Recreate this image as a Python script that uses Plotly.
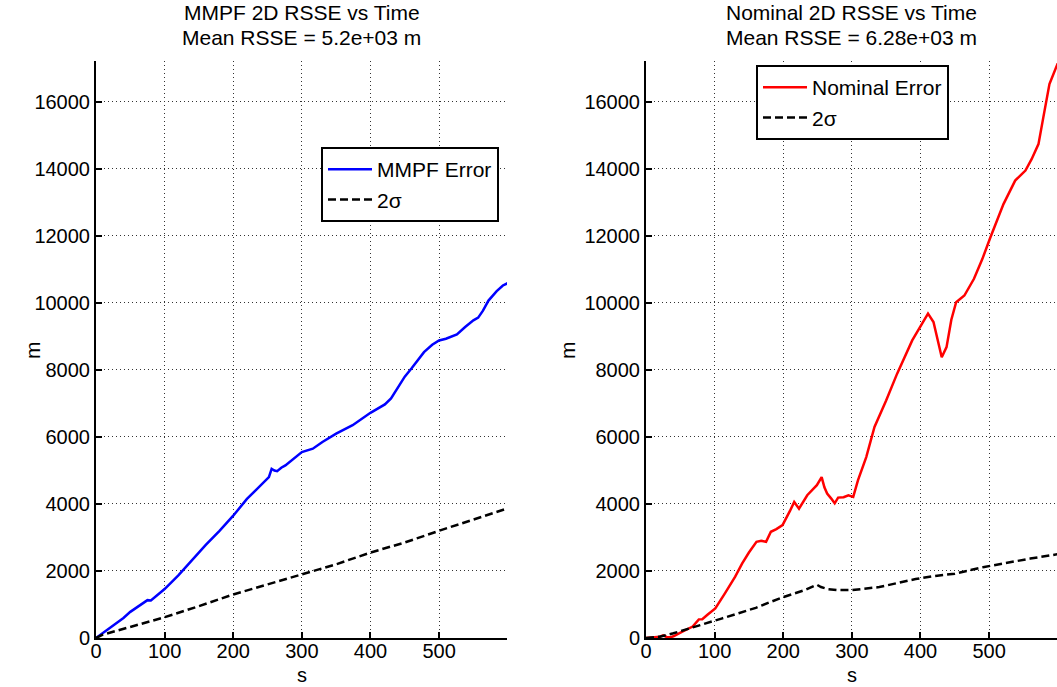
import plotly.graph_objects as go

# ---------------- data ----------------
mmpf_t = [0, 10, 20, 30, 40, 50, 60, 70, 75, 80, 90, 100, 120, 140, 160, 180, 200, 220, 240,
          252, 256, 260, 264, 270, 276, 290, 300, 316, 330, 350, 374, 400, 421, 430, 436, 450,
          460, 469, 478, 490, 500, 510, 526, 538, 550, 557, 564, 572, 584, 593, 600]
mmpf_err = [0, 150, 300, 440, 600, 780, 920, 1080, 1130, 1120, 1280, 1460, 1870, 2330, 2780, 3200,
            3650, 4150, 4550, 4800, 5050, 5000, 4980, 5080, 5150, 5400, 5550, 5650, 5850, 6100, 6350,
            6720, 6970, 7150, 7340, 7800, 8050, 8280, 8530, 8750, 8880, 8930, 9060, 9280, 9480, 9560,
            9770, 10070, 10350, 10520, 10590]

mmpf_sig_t = [0, 5, 10, 50, 100, 150, 200, 250, 300, 350, 400, 450, 500, 550, 600]
mmpf_sig = [0, 50, 100, 330, 620, 950, 1300, 1600, 1900, 2200, 2550, 2850, 3200, 3530, 3870]

nom_t = [0, 10, 20, 25, 30, 35, 40, 53, 60, 68, 77, 82, 90, 101, 115, 130, 140, 150, 161, 168, 175,
         182, 190, 199, 210, 216, 223, 230, 235, 249, 256, 260, 264, 270, 275, 280, 288, 295, 302,
         309, 321, 333, 350, 366, 388, 400, 411, 419, 425, 431, 438, 445, 452, 464, 478, 490, 502,
         521, 538, 553, 562, 572, 579, 588, 600]
nom_err = [0, 20, 40, 80, 30, 20, 50, 190, 250, 340, 556, 560, 700, 884, 1330, 1830, 2220, 2550,
           2870, 2900, 2870, 3170, 3250, 3370, 3800, 4060, 3860, 4100, 4260, 4560, 4800, 4500, 4310,
           4160, 4020, 4190, 4200, 4260, 4210, 4710, 5400, 6300, 7090, 7890, 8880, 9300, 9680, 9430,
           8900, 8380, 8680, 9500, 10020, 10220, 10720, 11300, 11960, 12950, 13650, 13950, 14290,
           14740, 15530, 16530, 17150]

nom_sig_t = [0, 20, 40, 60, 87, 110, 135, 160, 182, 200, 230, 249, 255, 265, 280, 300, 340, 393,
             420, 450, 493, 530, 560, 600]
nom_sig = [0, 40, 140, 260, 440, 580, 740, 900, 1080, 1220, 1420, 1590, 1520, 1460, 1430, 1430,
           1520, 1760, 1850, 1920, 2120, 2260, 2370, 2500]

x_ticks = [0, 100, 200, 300, 400, 500]
y_ticks = [0, 2000, 4000, 6000, 8000, 10000, 12000, 14000, 16000]

titles_left = ["MMPF 2D RSSE vs Time", "Mean RSSE = 5.2e+03 m"]
titles_right = ["Nominal 2D RSSE vs Time", "Mean RSSE = 6.28e+03 m"]

# ---------------- layout geometry ----------------
W, H = 1057, 687
FONT = "Liberation Sans, Arial, sans-serif"
lx0, lx1 = 96, 507
rx0, rx1 = 646, 1057
ytop, ybot = 61, 638

def px(x):
    return x / W

def py(y):
    return 1 - y / H

fig = go.Figure()
fig.add_trace(go.Scatter(x=mmpf_t, y=mmpf_err, mode="lines", name="MMPF Error",
                         line=dict(color="#0000ff", width=2.5), xaxis="x", yaxis="y", legend="legend"))
fig.add_trace(go.Scatter(x=mmpf_sig_t, y=mmpf_sig, mode="lines", name="2σ",
                         line=dict(color="black", width=2.5, dash="8px,4px"), xaxis="x", yaxis="y",
                         legend="legend"))
fig.add_trace(go.Scatter(x=nom_t, y=nom_err, mode="lines", name="Nominal Error",
                         line=dict(color="#ff0000", width=2.5), xaxis="x2", yaxis="y2", legend="legend2"))
fig.add_trace(go.Scatter(x=nom_sig_t, y=nom_sig, mode="lines", name="2σ",
                         line=dict(color="black", width=2.5, dash="8px,4px"), xaxis="x2", yaxis="y2",
                         legend="legend2"))

axis_common = dict(showline=True, linecolor="black", linewidth=2, ticks="inside", ticklen=6,
                   tickwidth=2, tickcolor="black", showgrid=True, gridcolor="#333333",
                   griddash="1px,3px", gridwidth=1, zeroline=False,
                   tickfont=dict(family=FONT, size=20, color="black"), mirror=False,
                   automargin=False, fixedrange=True)

ydom = [py(ybot), py(ytop)]
fig.update_layout(
    width=W, height=H, autosize=False,
    margin=dict(l=0, r=0, t=0, b=0),
    paper_bgcolor="white", plot_bgcolor="white",
    font=dict(family=FONT, color="black"),
    xaxis=dict(domain=[px(lx0), px(lx1)], range=[0, 599], tickvals=x_ticks, anchor="y",
               ticklabelstandoff=-6, **axis_common),
    yaxis=dict(domain=ydom, range=[0, 17220], tickvals=y_ticks, tickformat="d", anchor="x",
               **axis_common),
    xaxis2=dict(domain=[px(rx0), px(rx1)], range=[0, 599], tickvals=x_ticks, anchor="y2",
                ticklabelstandoff=-6, **axis_common),
    yaxis2=dict(domain=ydom, range=[0, 17220], tickvals=y_ticks, tickformat="d", anchor="x2",
                **axis_common),
    legend=dict(x=px(321), y=py(147), xanchor="left", yanchor="top", bgcolor="white",
                bordercolor="black", borderwidth=2, font=dict(family=FONT, size=21, color="black"),
                tracegroupgap=0, itemwidth=44),
    legend2=dict(x=px(756), y=py(65), xanchor="left", yanchor="top", bgcolor="white",
                 bordercolor="black", borderwidth=2, font=dict(family=FONT, size=21, color="black"),
                 tracegroupgap=0, itemwidth=44),
    showlegend=True,
)

anns = []
for (x0, x1), lines in (((lx0, lx1), titles_left), ((rx0, rx1), titles_right)):
    cx = px((x0 + x1) / 2)
    anns.append(dict(text=lines[0], x=cx, y=py(13), xref="paper", yref="paper", showarrow=False,
                     xanchor="center", yanchor="middle", font=dict(family=FONT, size=21, color="black")))
    anns.append(dict(text=lines[1], x=cx, y=py(38), xref="paper", yref="paper", showarrow=False,
                     xanchor="center", yanchor="middle", font=dict(family=FONT, size=21, color="black")))
    anns.append(dict(text="s", x=cx, y=py(675), xref="paper", yref="paper", showarrow=False,
                     xanchor="center", yanchor="middle", borderpad=0,
                     font=dict(family=FONT, size=20, color="black")))
anns.append(dict(text="m", x=px(32), y=py(350), xref="paper", yref="paper", showarrow=False,
                 textangle=-90, xanchor="center", yanchor="middle",
                 font=dict(family=FONT, size=21, color="black")))
anns.append(dict(text="m", x=px(567), y=py(350), xref="paper", yref="paper", showarrow=False,
                 textangle=-90, xanchor="center", yanchor="middle",
                 font=dict(family=FONT, size=21, color="black")))
fig.update_layout(annotations=anns)

fig.write_html("out.html")
